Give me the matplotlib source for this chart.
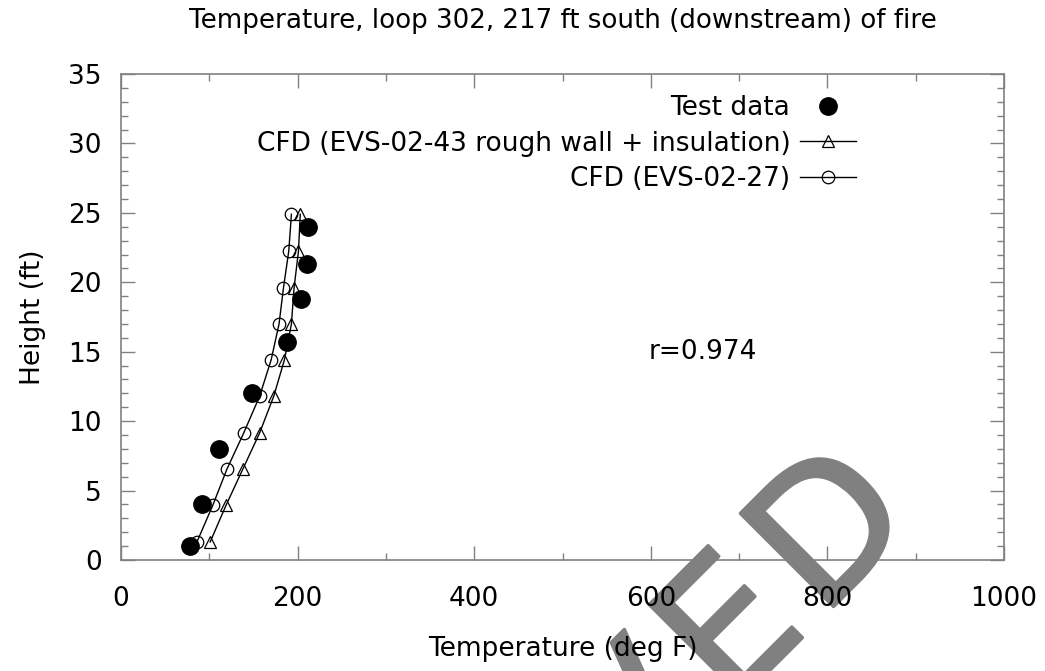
import matplotlib
matplotlib.use("Agg")
import matplotlib.pyplot as plt
import matplotlib.patheffects as pe
from matplotlib.ticker import MultipleLocator
from matplotlib.font_manager import FontProperties
from matplotlib.textpath import text_to_path

# test data (loop 302, 217 ft downstream)
test_temp = [78, 92, 111, 148, 188, 204, 211, 212]
test_height = [1.0, 4.0, 8.0, 12.0, 15.7, 18.8, 21.3, 24.0]

# CFD profiles
cfd_height = [1.3, 3.95, 6.55, 9.15, 11.8, 14.4, 17.0, 19.6, 22.25, 24.9]
cfd_43_temp = [101, 119, 138, 157, 173, 185, 193, 196, 201, 203]
cfd_27_temp = [86, 104, 120, 139, 157, 170, 179, 184, 190, 193]

W, H, DPI = 1045, 671, 100
plt.rcParams['font.family'] = ['DejaVu Sans']

fig = plt.figure(figsize=(W / DPI, H / DPI), dpi=DPI)
ax = fig.add_axes([121 / W, 1 - 560 / H, (1004 - 121) / W, (560 - 74) / H])
ax.patch.set_alpha(0)

ax.plot(test_temp, test_height, 'o', color='black', markersize=12.5,
        label='Test data', zorder=4)
ax.plot(cfd_43_temp, cfd_height, '-^', color='black', lw=1, markersize=9,
        markerfacecolor='none', markeredgewidth=0.9,
        label='CFD (EVS-02-43 rough wall + insulation)', zorder=3)
ax.plot(cfd_27_temp, cfd_height, '-o', color='black', lw=1, markersize=9,
        markerfacecolor='none', markeredgewidth=0.9,
        label='CFD (EVS-02-27)', zorder=3)

ax.set_xlim(0, 1000)
ax.set_ylim(0, 35)
ax.xaxis.set_major_locator(MultipleLocator(200))
ax.xaxis.set_minor_locator(MultipleLocator(100))
ax.yaxis.set_major_locator(MultipleLocator(5))
ax.yaxis.set_minor_locator(MultipleLocator(1))
ax.tick_params(which='both', direction='in', top=True, right=True,
               color='#808080', labelsize=19)
ax.tick_params(which='major', length=10, width=1)
ax.tick_params(which='minor', length=5, width=1)
ax.tick_params(axis='x', pad=19)
ax.tick_params(axis='y', pad=14)
for s in ax.spines.values():
    s.set_color('#808080')
    s.set_linewidth(1.2)

ax.set_xlabel('Temperature (deg F)', fontsize=19, labelpad=17)
ax.set_ylabel('Height (ft)', fontsize=19, labelpad=16)
ax.set_title('Temperature, loop 302, 217 ft south (downstream) of fire',
             fontsize=18.8, pad=33)
ax.text(597, 15, 'r=0.974', fontsize=19, ha='left', va='center')

ax.legend(loc='upper right', bbox_to_anchor=(0.8536, 0.995), frameon=False,
          markerfirst=False, numpoints=1, fontsize=19, handlelength=2.15,
          labelspacing=0.37, handletextpad=0.35, borderaxespad=0.3)

# diagonal stamp behind the plot, set letter by letter with wide tracking
stamp = 'ARCHIVED'
stamp_size = 130
stretch = 1.13
prop = FontProperties(family='DejaVu Sans', size=stamp_size)

def ink_width(s):
    w, h, d = text_to_path.get_text_width_height_descent(s, prop, ismath=False)
    return w * DPI / 72

d_x, d_y = 821, 619  # baseline point at the left of the last letter
last_w = ink_width(stamp[-1])
for i, ch in enumerate(stamp):
    dist = (ink_width(stamp[i:]) - last_w) * stretch
    px = d_x - dist * 0.7071
    py = d_y + dist * 0.7071
    fig.text(px / W, 1 - py / H, ch, rotation=45, rotation_mode='anchor',
             ha='left', va='baseline', fontproperties=prop,
             color='#808080', zorder=-1,
             path_effects=[pe.withStroke(linewidth=2.5, foreground='#808080')])

fig.savefig('out.png', dpi=DPI)
